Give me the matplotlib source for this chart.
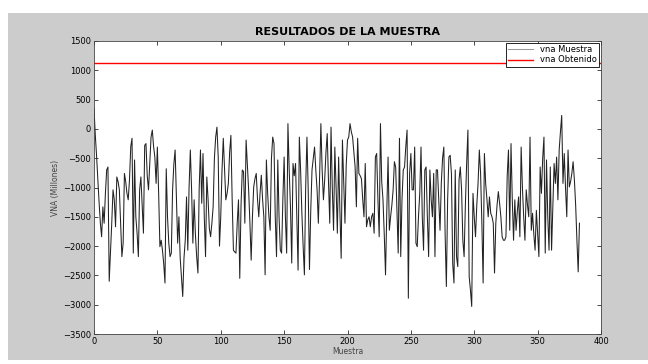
import numpy as np
import matplotlib
matplotlib.use("Agg")
import matplotlib.pyplot as plt
from matplotlib.patches import Rectangle

# VNA per sample (millions)
vna_muestra = [
    350, -100, -450, -850, -1250, -1600, -1840, -1330, -1610, -1100,
    -700, -650, -2600, -2100, -1610, -1040, -1210, -1670, -820, -900,
    -1040, -1600, -2180, -1950, -760, -900, -1100, -1210, -870, -300,
    -160, -2120, -530, -1500, -1780, -2180, -1040, -820, -1300, -1780,
    -280, -250, -800, -1040, -590, -140, -20, -300, -480, -930,
    -310, -1100, -2010, -1900, -2070, -2300, -2630, -680, -1500, -1950,
    -2180, -2120, -1040, -600, -360, -1160, -1950, -1500, -2200, -2520,
    -2860, -2200, -1900, -1160, -2070, -1000, -360, -1040, -1950, -1210,
    -1800, -2180, -2460, -1000, -360, -1270, -420, -1500, -2180, -820,
    -1200, -1700, -1840, -1610, -1330, -500, -140, 30, -480, -2000,
    -1500, -700, -160, -700, -1210, -1100, -930, -400, -110, -1200,
    -2070, -2100, -2120, -1600, -1210, -2550, -1300, -700, -730, -1610,
    -190, -600, -1040, -1600, -2240, -1500, -990, -850, -760, -1200,
    -1500, -1100, -790, -1200, -1500, -2490, -530, -1100, -1500, -1730,
    -500, -140, -250, -1500, -2180, -530, -1500, -2070, -2120, -1200,
    -480, -1500, -2120, 90, -700, -1330, -2290, -590, -800, -590,
    -1500, -2410, -140, -700, -1440, -2000, -2490, -1000, -140, -1040,
    -2400, -1400, -700, -500, -310, -700, -1040, -1610, -800, 90,
    -700, -1210, -870, -400, -80, -900, -1610, 30, -1000, -1730,
    -310, -1000, -1780, -480, -1400, -2210, -190, -900, -1610, -600,
    -190, -135, 90, -50, -135, -400, -650, -1330, -160, -760,
    -800, -850, -1200, -1500, -590, -1670, -1550, -1500, -1670, -1500,
    -1440, -1780, -480, -420, -1200, -1840, 90, -900, -1210, -1800,
    -2490, -1400, -480, -1730, -1500, -1300, -1040, -560, -650, -1400,
    -2120, -160, -2180, -1200, -700, -650, -300, -20, -2890, -760,
    -420, -1040, -1040, -310, -1950, -2010, -1500, -1100, -310, -1500,
    -2070, -700, -650, -1500, -2180, -700, -1200, -1500, -760, -2180,
    -700, -700, -1200, -1730, -930, -500, -310, -1780, -2690, -1210,
    -480, -450, -760, -2300, -2630, -700, -2180, -2350, -870, -650,
    -1040, -1900, -2180, -1300, -590, -20, -2520, -2750, -3030, -1100,
    -1500, -1840, -1300, -930, -360, -760, -1600, -2630, -420, -930,
    -1200, -1500, -1160, -1440, -1500, -1610, -2460, -1610, -1300, -1070,
    -1270, -1500, -1840, -1900, -1900, -1840, -800, -360, -1730, -250,
    -1200, -1900, -1210, -1730, -1400, -1160, -1840, -310, -1000, -1500,
    -1900, -1040, -1300, -1500, -140, -1730, -1440, -1800, -2070, -1390,
    -1800, -2180, -650, -1100, -500, -140, -2120, -530, -1500, -2070,
    -650, -2070, -1300, -590, -930, -480, -1210, -360, -50, 230,
    -930, -420, -1000, -1500, -360, -990, -900, -760, -560, -870,
    -1300, -1900, -2440, -1610,
]
vna_obtenido = 1120
muestra = np.arange(len(vna_muestra))

plt.rcParams["font.family"] = "DejaVu Sans"
fig = plt.figure(figsize=(6.48, 3.64), dpi=100, facecolor="white")
# MATLAB-like grey figure panel
fig.patches.append(Rectangle((8 / 648, 4 / 364), 1, (364 - 13 - 4) / 364,
                             transform=fig.transFigure, facecolor="#cccccc",
                             edgecolor="none", zorder=-10))

ax = fig.add_axes([94 / 648, (364 - 334) / 364, (601 - 94) / 648, (334 - 41) / 364])
ax.set_facecolor("white")

ax.plot(muestra, vna_muestra, color="#222222", lw=0.75, label="vna Muestra")
ax.axhline(vna_obtenido, color="red", lw=1.0, label="vna Obtenido")

ax.set_xlim(0, 400)
ax.set_ylim(-3500, 1500)
ax.set_xticks(np.arange(0, 401, 50))
ax.set_yticks(np.arange(-3500, 1501, 500))
ax.tick_params(direction="in", top=True, right=True, labelsize=6,
               length=3, width=0.5, pad=2)
for s in ax.spines.values():
    s.set_linewidth(0.6)
    s.set_color("#444444")

ax.set_title("RESULTADOS DE LA MUESTRA", fontsize=8, fontweight="bold", pad=4)
ax.set_xlabel("Muestra", fontsize=5.5, labelpad=1, color="#444444")
ax.set_ylabel("VNA (Millones)", fontsize=5.5, labelpad=2, color="#444444")

leg = ax.legend(loc="upper right", fontsize=6, fancybox=False,
                framealpha=1, edgecolor="black", borderaxespad=0.2,
                handlelength=3.0, borderpad=0.3, labelspacing=0.15)
leg.get_frame().set_linewidth(0.6)
leg.get_lines()[0].set_color("#999999")

fig.savefig("out.png", dpi=100, facecolor=fig.get_facecolor())
